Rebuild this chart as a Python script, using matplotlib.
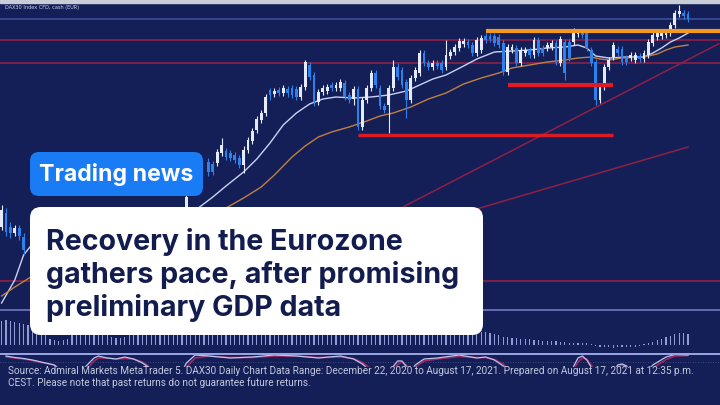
import numpy as np
import matplotlib.pyplot as plt
from matplotlib.patches import FancyBboxPatch, Rectangle

# DAX30 daily candles (index = trading day on the chart)
idx = [0, 1, 2, 3, 4, 5, 42, 47, 48, 49, 50, 51, 52, 53, 54, 55, 56, 57, 58, 59,
       60, 61, 62, 63, 64, 65, 66, 67, 68, 69, 70, 71, 72, 73, 74, 75, 76, 77, 78, 79,
       80, 81, 82, 83, 84, 85, 86, 87, 88, 89, 90, 91, 92, 93, 94, 95, 96, 97, 98, 99,
       100, 101, 102, 103, 104, 105, 106, 107, 108, 109, 110, 111, 112, 113, 114, 115, 116, 117, 118, 119,
       120, 121, 122, 123, 124, 125, 126, 127, 128, 129, 130, 131, 132, 133, 134, 135, 136, 137, 138, 139,
       140, 141, 142, 143, 144, 145, 146, 147, 148, 149, 150, 151, 152, 153, 154, 155, 156]
opens = [13800, 13940, 13800, 13740, 13790, 13700, 13920, 14450, 14430, 14440, 14540, 14560, 14540, 14520, 14490, 14420, 14570, 14660, 14770, 14870,
         14940, 15170, 15130, 15170, 15140, 15180, 15190, 15180, 15100, 15200, 15420, 15320, 15050, 15150, 15160, 15220, 15190, 15190, 15240, 15120,
         15080, 15180, 14800, 15070, 15190, 15340, 15190, 15010, 15020, 15190, 15400, 15370, 15250, 15070, 15290, 15340, 15540, 15440, 15400, 15440,
         15440, 15400, 15510, 15550, 15590, 15630, 15650, 15620, 15540, 15570, 15710, 15710, 15710, 15700, 15640, 15350, 15570, 15590, 15440, 15540,
         15570, 15520, 15670, 15590, 15590, 15600, 15640, 15440, 15650, 15650, 15650, 15730, 15750, 15740, 15570, 15450, 15070, 15200, 15400, 15500,
         15580, 15580, 15490, 15490, 15470, 15510, 15480, 15520, 15640, 15700, 15710, 15720, 15740, 15820, 15930, 15940, 15930]
highs = [14020, 13990, 13850, 13820, 13820, 13740, 14130, 14490, 14460, 14580, 14690, 14590, 14570, 14550, 14520, 14610, 14700, 14790, 14910, 14970,
         15130, 15190, 15190, 15200, 15220, 15210, 15220, 15210, 15230, 15470, 15450, 15350, 15180, 15220, 15230, 15250, 15250, 15280, 15270, 15150,
         15210, 15210, 15100, 15220, 15370, 15370, 15220, 15040, 15220, 15470, 15440, 15400, 15280, 15320, 15400, 15570, 15570, 15470, 15470, 15470,
         15470, 15670, 15580, 15630, 15690, 15690, 15680, 15650, 15700, 15720, 15740, 15740, 15740, 15730, 15670, 15630, 15630, 15620, 15600, 15600,
         15600, 15700, 15700, 15620, 15650, 15670, 15670, 15710, 15680, 15680, 15790, 15780, 15780, 15770, 15600, 15480, 15230, 15430, 15500, 15650,
         15610, 15610, 15520, 15550, 15550, 15540, 15570, 15680, 15750, 15770, 15780, 15780, 15850, 15970, 16020, 15970, 15960]
lows = [13770, 13710, 13690, 13710, 13670, 13520, 13870, 14310, 14320, 14410, 14510, 14470, 14460, 14440, 14390, 14340, 14540, 14630, 14740, 14840,
        14910, 15070, 15100, 15110, 15110, 15100, 15090, 15070, 15070, 15170, 15270, 15010, 15020, 15120, 15130, 15160, 15160, 15160, 15070, 15040,
        15020, 14770, 14770, 15040, 15160, 15190, 14980, 14940, 14740, 15160, 15270, 15190, 14890, 15040, 15260, 15310, 15410, 15370, 15370, 15380,
        15340, 15370, 15480, 15520, 15560, 15600, 15590, 15510, 15510, 15540, 15640, 15650, 15610, 15590, 15320, 15320, 15540, 15410, 15410, 15510,
        15490, 15490, 15510, 15510, 15560, 15570, 15420, 15410, 15270, 15460, 15620, 15700, 15690, 15560, 15410, 15020, 15040, 15170, 15370, 15470,
        15510, 15420, 15420, 15460, 15440, 15450, 15450, 15490, 15610, 15670, 15680, 15690, 15710, 15790, 15900, 15880, 15850]
closes = [13970, 13750, 13740, 13790, 13710, 13570, 14100, 14350, 14350, 14550, 14620, 14500, 14490, 14470, 14420, 14570, 14670, 14760, 14880, 14940,
          15100, 15120, 15160, 15140, 15190, 15140, 15120, 15100, 15200, 15450, 15300, 15050, 15150, 15190, 15200, 15190, 15220, 15250, 15100, 15070,
          15180, 14800, 15070, 15190, 15340, 15220, 15010, 14970, 15190, 15400, 15300, 15220, 15070, 15290, 15370, 15540, 15440, 15400, 15440, 15410,
          15370, 15520, 15550, 15600, 15660, 15660, 15620, 15540, 15670, 15690, 15670, 15680, 15640, 15620, 15350, 15600, 15600, 15440, 15570, 15570,
          15520, 15670, 15540, 15540, 15620, 15640, 15440, 15680, 15340, 15490, 15770, 15750, 15720, 15590, 15440, 15070, 15200, 15400, 15470, 15620,
          15540, 15450, 15450, 15520, 15520, 15480, 15540, 15650, 15720, 15740, 15750, 15750, 15820, 15940, 15960, 15910, 15880]

# moving averages (fast = light, slow = orange)
ma_fast_x = [0, 3, 5, 7, 43, 45, 48, 51, 55, 58, 61, 64, 67, 70, 73, 76, 80, 84, 88, 92, 95, 98, 101, 105, 108,
             112, 116, 120, 124, 128, 131, 133, 135, 138, 142, 146, 148, 150, 152, 154, 156]
ma_fast_y = [13040, 13270, 13520, 13630, 13940, 14000, 14100, 14210, 14350, 14480, 14640, 14820, 14940, 15030, 15080,
             15100, 15090, 15100, 15120, 15160, 15220, 15280, 15320, 15410, 15480, 15550, 15560, 15570, 15590, 15600,
             15620, 15590, 15510, 15490, 15500, 15500, 15540, 15590, 15650, 15690, 15740]
ma_slow_x = [0, 3, 7, 49, 51, 55, 59, 62, 66, 69, 72, 75, 79, 83, 86, 89, 93, 97, 101, 105, 109, 113, 116, 120,
             124, 128, 131, 134, 136, 138, 141, 146, 149, 151, 153, 156]
ma_slow_y = [13110, 13200, 13310, 13940, 13990, 14090, 14200, 14320, 14500, 14610, 14700, 14750, 14800, 14860, 14910,
             14940, 15000, 15080, 15140, 15230, 15290, 15340, 15390, 15420, 15450, 15470, 15490, 15500, 15480, 15470,
             15490, 15500, 15530, 15570, 15600, 15620]

# support / resistance levels and trend lines
levels = [15880, 15670, 15440, 13260]
resist_orange = 15760
support_short = 15220
support_long = 14720
trend1_x = [80, 163]
trend1_y = [13745, 15633]
trend2_x = [80, 156]
trend2_y = [13620, 14600]

# MACD histogram (one bar per day)
hist = [120, 125, 120, 115, 110, 105, 100, 80, 75, 70, 60, 30, 25, 20, 25, 30, 50, 60, 70, 75,
        80, 80, 75, 65, 55, 40, 35, 35, 40, 55, 65, 70, 75, 80, 85, 85, 80, 80, 75, 75,
        80, 85, 85, 80, 80, 85, 90, 90, 85, 85, 80, 80, 85, 90, 90, 85, 80, 80, 85, 85,
        80, 75, 75, 80, 85, 90, 90, 85, 80, 80, 75, 75, 80, 80, 75, 70, 70, 75, 80, 80,
        75, 75, 70, 70, 75, 80, 80, 75, 70, 70, 75, 80, 80, 75, 70, 70, 75, 80, 80, 75,
        70, 70, 75, 75, 70, 70, 70, 65, 65, 65, 65, 60, 55, 50, 40, 38, 35, 35, 32, 30,
        28, 25, 25, 22, 20, 20, 18, 15, 15, 12, 10, 12, 10, 8, 5, -5, -8, -10, -12, -15,
        -12, -10, -12, -10, -8, -5, 5, 10, 15, 25, 30, 40, 45, 55, 60, 60, 55]

# stochastic oscillator
osc_x = [1, 3, 5, 7, 9, 11, 12, 14, 17, 19, 21, 22, 24, 26, 28, 30, 32, 33, 35, 38, 40, 42, 44, 47, 52, 57, 62,
         67, 72, 77, 80, 82, 84, 86, 88, 90, 91, 93, 94, 96, 99, 104, 108, 110, 112, 114, 116, 120, 126, 129,
         131, 132, 133, 135, 139, 140, 141, 142, 143, 146, 148, 151, 153, 156]
osc_k = [92, 89, 87, 84, 80, 76, 74, 60, 45, 70, 88, 92, 88, 86, 90, 86, 78, 72, 55, 40, 45, 78, 94, 92, 88, 90, 94,
         92, 88, 92, 86, 76, 60, 45, 60, 82, 82, 60, 74, 86, 88, 94, 88, 90, 84, 72, 50, 40, 40, 55,
         88, 92, 84, 55, 60, 74, 76, 72, 55, 55, 74, 90, 95, 94]
osc_d = [90, 88, 86, 83, 79, 76, 73, 62, 48, 62, 82, 88, 88, 86, 87, 86, 80, 74, 60, 45, 44, 70, 88, 92, 89, 89, 92,
         92, 89, 90, 87, 79, 66, 50, 55, 75, 80, 66, 70, 82, 86, 91, 89, 89, 85, 76, 56, 44, 40, 50,
         80, 88, 86, 62, 58, 68, 74, 73, 60, 55, 68, 85, 92, 93]

navy = '#141f57'
fig = plt.figure(figsize=(7.2, 4.05), dpi=100)
fig.patch.set_facecolor(navy)

# price panel, scaled so the picture lines up
ax = fig.add_axes([0, 0, 1, 1])
ax.set_facecolor(navy)
ax.set_xlim(-0.364, 163.27)
ax.set_ylim(12020, 16070)
ax.axis('off')

for lv in levels:
    col = '#3b4f99' if lv == levels[0] else '#8e1f45'
    ax.axhline(lv, color=col, lw=1.2, zorder=1)
ax.plot(trend1_x, trend1_y, color='#8e1f45', lw=1.1, zorder=1)
ax.plot(trend2_x, trend2_y, color='#8e1f45', lw=1.1, zorder=1)
ax.plot(ma_fast_x, ma_fast_y, color='#c9d2f5', lw=1.0, zorder=3)
ax.plot(ma_slow_x, ma_slow_y, color='#c08040', lw=1.0, zorder=3)

opens = np.array(opens); closes = np.array(closes)
bull = closes >= opens
colors = np.where(bull, '#e4ebff', '#2f80ea')
ax.vlines(idx, lows, highs, colors=colors, lw=0.8, zorder=4)
ax.bar(idx, np.abs(closes - opens), bottom=np.minimum(opens, closes), width=0.6,
       color=colors, zorder=5)

ax.hlines(resist_orange, 110, 164, color='#f39a1e', lw=3, zorder=6)
ax.hlines(support_short, 115, 139, color='#e01b24', lw=3, zorder=6)
ax.hlines(support_long, 81, 139, color='#d81b24', lw=2.5, zorder=6)

# MACD histogram panel
axh = fig.add_axes([0, 0, 1, 1])
axh.set_facecolor('none')
axh.set_xlim(-0.364, 163.27)
axh.set_ylim(-300, 1725)
axh.axis('off')
axh.bar(range(len(hist)), hist, width=0.25, color='#8f9ad6')

# stochastic panel
axo = fig.add_axes([0, 0, 1, 1])
axo.set_facecolor('none')
axo.set_xlim(-0.364, 163.27)
axo.set_ylim(-6, 804)
axo.axis('off')
axo.axhline(80, color='#4a5a9a', lw=0.6, ls=(0, (1, 2)))
axo.plot(osc_x, osc_d, color='#a0285a', lw=1.2)
axo.plot(osc_x, osc_k, color='#b7c4f5', lw=0.9)

# overlay in pixel units: panel lines, banner boxes and texts
top = fig.add_axes([0, 0, 1, 1])
top.set_facecolor('none')
top.set_xlim(0, 720)
top.set_ylim(405, 0)
top.axis('off')

top.axhline(310, color='#6d7bc4', lw=1.2, zorder=1)
top.axhline(353.5, color='#9aa6e6', lw=1.4, zorder=1)
top.add_patch(Rectangle((0, 367), 720, 40, color=navy, zorder=2))
top.add_patch(Rectangle((0, 0), 720, 3, color='#c9cdd8', zorder=2))
top.text(5, 7, 'DAX30 Index CFD, cash (EUR)', color='#c9d2f0', fontsize=3.6, va='center', zorder=3)

top.add_patch(FancyBboxPatch((30, 152), 173, 44, boxstyle='round,pad=0,rounding_size=9',
                             fc='#1a7cf4', ec='none', zorder=5))
top.text(116.5, 174, 'Trading news', color='white', fontsize=16.6, fontweight='bold',
         family='Inter', ha='center', va='center', zorder=6)

top.add_patch(FancyBboxPatch((30, 207), 453, 128, boxstyle='round,pad=0,rounding_size=11',
                             fc='white', ec='none', zorder=5))
title = ['Recovery in the Eurozone', 'gathers pace, after promising', 'preliminary GDP data']
for k, line in enumerate(title):
    top.text(46, 250 + 33 * k, line, color='#121c4e', fontsize=20.6, fontweight='bold',
             family='Inter', ha='left', va='baseline', zorder=6)

source = ('Source: Admiral Markets MetaTrader 5. DAX30 Daily Chart Data Range: December 22, 2020 to August 17, 2021. '
          'Prepared on August 17, 2021 at 12:35 p.m.\nCEST. Please note that past returns do not guarantee future returns.')
top.text(8, 385.5, source, color='#c3c9de', fontsize=7.2, family='Roboto', ha='left', va='baseline',
         linespacing=1.1, zorder=6)

fig.savefig('out.png', dpi=100, facecolor=navy)
